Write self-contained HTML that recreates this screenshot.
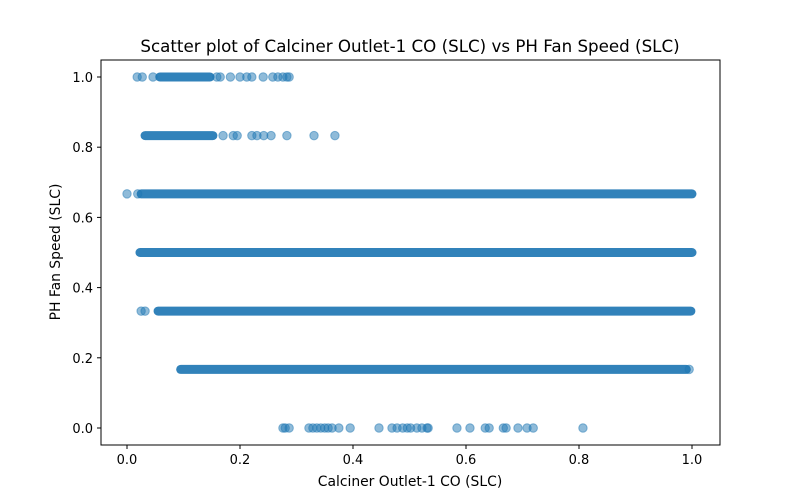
<!DOCTYPE html>
<html><head><meta charset="utf-8"><style>
body{margin:0;background:#fff}
svg{display:block;font-family:"DejaVu Sans","Liberation Sans",sans-serif}
</style></head><body>
<svg id="chart" width="800" height="500" viewBox="0 0 800 500">
<rect width="800" height="500" fill="#fff"/>
<text x="410" y="52" font-size="16.7" text-anchor="middle" fill="#000">Scatter plot of Calciner Outlet-1 CO (SLC) vs PH Fan Speed (SLC)</text>
<g id="marks"></g>
<g id="axes"></g>
<text x="410" y="486" font-size="13.9" text-anchor="middle">Calciner Outlet-1 CO (SLC)</text>
<text transform="translate(60,252) rotate(-90)" font-size="13.9" text-anchor="middle">PH Fan Speed (SLC)</text>
</svg>
<script>
const rowLevels=[1.0,0.833,0.667,0.5,0.333,0.167,0.0];
const denseStart=[0.058,0.032,0.025,0.023,0.055,0.095,null];
const denseEnd=[0.147,0.152,1.0,1.0,0.998,0.99,null];
const sparseRow0=[0.018,0.027,0.046,0.159,0.165,0.183,0.200,0.212,0.221,0.241,0.258,0.267,0.276,0.283,0.287];
const sparseRow1=[0.170,0.188,0.195,0.221,0.230,0.242,0.255,0.283,0.331,0.368];
const sparseRow2=[0.0,0.019];
const sparseRow3=[];
const sparseRow4=[0.025,0.032];
const sparseRow5=[0.995];
const sparseRow6=[0.276,0.280,0.287,0.322,0.329,0.336,0.343,0.350,0.356,0.363,0.375,0.395,0.446,0.469,0.478,0.488,0.496,0.502,0.513,0.522,0.531,0.533,0.584,0.607,0.634,0.641,0.666,0.671,0.692,0.708,0.719,0.807];
const sparse=[sparseRow0,sparseRow1,sparseRow2,sparseRow3,sparseRow4,sparseRow5,sparseRow6];
const xTicks=[0.0,0.2,0.4,0.6,0.8,1.0];
const yTicks=[0.0,0.2,0.4,0.6,0.8,1.0];

const NS="http://www.w3.org/2000/svg";
const L=101,R=720,T=60,B=445;
const xs=v=>127+v*565;
const ys=v=>428-v*351;
const marks=document.getElementById('marks');
const axes=document.getElementById('axes');
function mk(tag,attrs,parent){const e=document.createElementNS(NS,tag);for(const k in attrs)e.setAttribute(k,attrs[k]);parent.appendChild(e);return e;}

rowLevels.forEach((lv,i)=>{
  if(denseStart[i]!==null){
    const ln=mk('line',{x1:xs(denseStart[i]),x2:xs(denseEnd[i]),y1:ys(lv),y2:ys(lv),stroke:'#1f77b4','stroke-width':9,'stroke-linecap':'round','stroke-opacity':0.92},marks);
    
    
  }
  sparse[i].forEach(v=>{
    const c=mk('circle',{cx:xs(v),cy:ys(lv),r:4.2,fill:'#1f77b4','fill-opacity':0.5,stroke:'#1f77b4','stroke-opacity':0.5,'stroke-width':1},marks);
    
    
  });
});

const fr=mk('rect',{x:L,y:T,width:R-L,height:B-T,fill:'none',stroke:'#000','stroke-width':1},axes);


xTicks.forEach(v=>{
  const x=xs(v);
  const t=mk('line',{x1:x,x2:x,y1:B,y2:B+4,stroke:'#000'},axes);
  
  
  const tx=mk('text',{x:x,y:B+19,'font-size':13,'text-anchor':'middle'},axes);
  tx.textContent=v.toFixed(1);
  
  
});
yTicks.forEach(v=>{
  const y=ys(v);
  const t=mk('line',{x1:L-4,x2:L,y1:y,y2:y,stroke:'#000'},axes);
  
  
  const tx=mk('text',{x:L-8,y:y+5,'font-size':13,'text-anchor':'end'},axes);
  tx.textContent=v.toFixed(1);
  
  
});
</script>
</body></html>
